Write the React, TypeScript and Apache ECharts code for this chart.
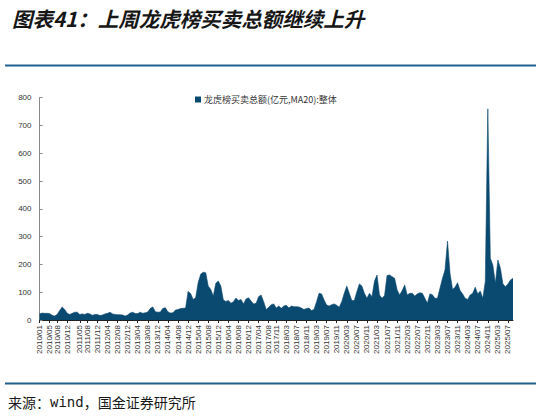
import React, { useEffect, useRef } from "react";
import * as echarts from "echarts";

const TITLE = "图表41：上周龙虎榜买卖总额继续上升";
const SERIES_NAME = "龙虎榜买卖总额(亿元,MA20):整体";

// first and last month of the series (monthly points)
const START_YEAR = 2010;
const START_MONTH = 1;
const END_YEAR = 2025;
const END_MONTH = 9;

// tick labels shown on the x axis
const tickLabels = [
  "2010/01", "2010/05", "2010/08", "2010/12", "2011/05", "2011/08", "2011/12",
  "2012/04", "2012/08", "2012/12", "2013/04", "2013/08", "2013/12", "2014/04",
  "2014/08", "2014/12", "2015/04", "2015/08", "2015/12", "2016/04", "2016/08",
  "2016/12", "2017/04", "2017/08", "2017/11", "2018/03", "2018/07", "2018/11",
  "2019/03", "2019/07", "2019/11", "2020/03", "2020/07", "2020/11", "2021/03",
  "2021/07", "2021/11", "2022/03", "2022/07", "2022/11", "2023/03", "2023/07",
  "2023/11", "2024/03", "2024/07", "2024/11", "2025/03", "2025/07",
];

// 龙虎榜买卖总额 (亿元, MA20), monthly readings
const values2010to2014 = [
  22, 25, 24, 24, 23, 17, 14, 20, 34, 47,
  38, 24, 20, 24, 28, 28, 20, 22, 20, 24,
  22, 17, 20, 20, 16, 18, 22, 24, 28, 22,
  20, 19, 19, 18, 14, 18, 25, 28, 23, 23,
  28, 24, 26, 29, 42, 47, 30, 28, 29, 42,
  44, 29, 25, 26, 36, 38, 41, 42, 43,
];
const values2014to2019 = [
  103,
  95, 74, 80, 135, 165, 172, 170, 122, 110, 86,
  132, 140, 122, 72, 67, 70, 60, 66, 79, 70,
  74, 58, 76, 80, 68, 58, 60, 84, 90, 66,
  38, 46, 55, 58, 43, 50, 42, 50, 53, 43,
  50, 48, 48, 47, 43, 38, 41, 43, 34, 38,
];
const values2019to2025 = [
  66, 96, 94, 72, 54, 50, 55, 58, 53, 46,
  66, 96, 122, 96, 70, 70, 102, 130, 122, 96,
  78, 96, 84, 140, 162, 90, 78, 88, 160, 162,
  156, 150, 108, 90, 106, 126, 90, 96, 96, 86,
  94, 98, 96, 78, 60, 94, 91, 78, 78, 114,
  150, 180, 284, 168, 110, 118, 134, 106, 94, 78,
  74, 90, 96, 118, 94, 104, 78, 138, 760, 222,
  198, 132, 216, 186, 130, 120, 130, 144, 150,
];

const yTicks = { min: 0, max: 800, interval: 100 };

function buildMonths(): string[] {
  const out: string[] = [];
  let y = START_YEAR;
  let m = START_MONTH;
  while (y < END_YEAR || (y === END_YEAR && m <= END_MONTH)) {
    out.push(`${y}/${String(m).padStart(2, "0")}`);
    m += 1;
    if (m > 12) {
      m = 1;
      y += 1;
    }
  }
  return out;
}

export default function App() {
  const ref = useRef<HTMLDivElement>(null);

  useEffect(() => {
    if (!ref.current) return;
    const chart = echarts.init(ref.current, null, { renderer: "svg" });
    const months = buildMonths();
    const values = [...values2010to2014, ...values2014to2019, ...values2019to2025];
    const labelSet = new Set(tickLabels);
    const showTick = (_i: number, v: string) => labelSet.has(v);
    const lineColor = "#22608f";

    chart.setOption({
      animation: false,
      backgroundColor: "#ffffff",
      title: {
        text: TITLE,
        left: 7,
        top: 3,
        textStyle: {
          fontSize: 20.5,
          fontStyle: "italic",
          fontWeight: "bold",
          color: "#161616",
          fontFamily: "Noto Sans CJK SC",
        },
      },
      legend: {
        data: [SERIES_NAME],
        left: 190,
        top: 90,
        icon: "rect",
        itemWidth: 6,
        itemHeight: 6,
        textStyle: {
          fontSize: 9,
          color: "#333333",
          fontFamily: "Noto Sans CJK SC",
          padding: [0, 0, 0, -2],
        },
      },
      grid: {
        left: 39.5,
        right: 28,
        top: 97.7,
        bottom: 96,
        containLabel: false,
      },
      xAxis: {
        type: "category",
        data: months,
        boundaryGap: false,
        axisLine: { show: true, lineStyle: { color: "#222222", width: 1 } },
        axisTick: {
          show: true,
          interval: showTick,
          length: 3,
          lineStyle: { color: "#222222" },
        },
        axisLabel: {
          interval: showTick,
          rotate: 90,
          fontSize: 8,
          margin: 5,
          color: "#333333",
          fontFamily: "Liberation Sans",
        },
        splitLine: { show: false },
      },
      yAxis: {
        type: "value",
        min: yTicks.min,
        max: yTicks.max,
        interval: yTicks.interval,
        axisLine: { show: true, lineStyle: { color: "#888888", width: 1 } },
        axisTick: { show: true, inside: true, length: 3, lineStyle: { color: "#888888" } },
        axisLabel: {
          fontSize: 8,
          margin: 8,
          color: "#333333",
          fontFamily: "Liberation Sans",
        },
        splitLine: { show: false },
      },
      series: [
        {
          name: SERIES_NAME,
          type: "line",
          data: values,
          symbol: "none",
          smooth: false,
          lineStyle: { color: "#0b4a70", width: 0.6 },
          itemStyle: { color: "#0b4a70" },
          areaStyle: { color: "#0b4a70", opacity: 1 },
        },
      ],
      graphic: [
        {
          type: "line",
          shape: { x1: 5, y1: 65.5, x2: 536, y2: 65.5 },
          style: { stroke: lineColor, lineWidth: 2 },
        },
        {
          type: "line",
          shape: { x1: 5, y1: 383.5, x2: 536, y2: 383.5 },
          style: { stroke: lineColor, lineWidth: 2 },
        },
        {
          type: "text",
          left: 8,
          top: 395,
          style: {
            text: "{a|来源：}{b|wind}{a|，国金证券研究所}",
            rich: {
              a: { fontSize: 14, fontFamily: "Noto Sans CJK SC", fill: "#1a1a1a" },
              b: { fontSize: 14, fontFamily: "DejaVu Sans Mono", fill: "#1a1a1a" },
            },
          },
        },
      ],
    });

    return () => chart.dispose();
  }, []);

  return (
    <div
      ref={ref}
      style={{ position: "absolute", left: 0, top: 0, width: 541, height: 416 }}
    />
  );
}
